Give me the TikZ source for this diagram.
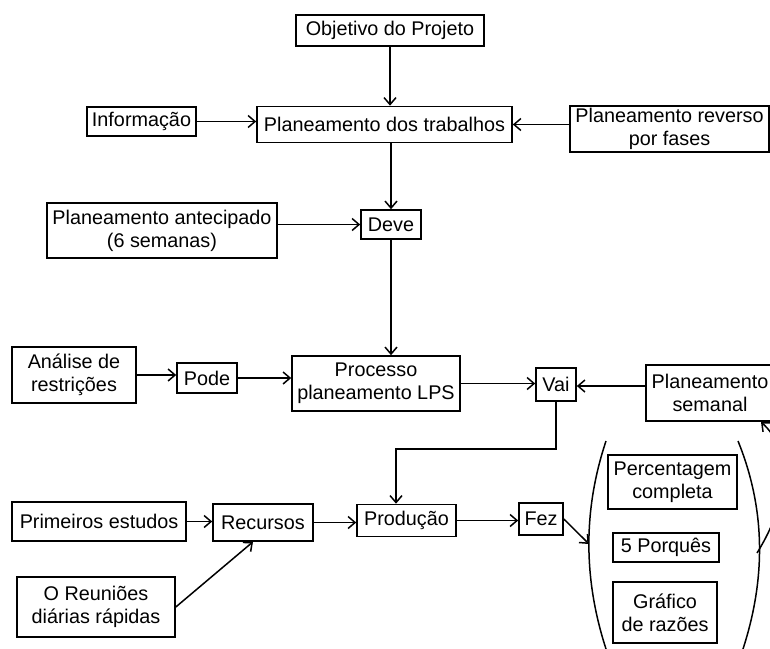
\documentclass[tikz,border=0pt]{standalone}
\usepackage{fontspec}
\setmainfont{Liberation Sans}
\usetikzlibrary{arrows.meta}
\tikzset{
  box/.style={draw, line width=1.6pt, inner sep=0pt, align=center, font=\fontsize{19.8}{23}\selectfont},
  arr/.style={line width=1.5pt, -{Straight Barb[length=7pt,width=12pt,line width=1.5pt]}},
  ln/.style={line width=1.5pt}
}
\begin{document}
\begin{tikzpicture}[x=1pt,y=-1pt]
\useasboundingbox (0,0) rectangle (770,648);
\clip (0,0) rectangle (770,648);
% nodes
\node[box, minimum width=188, minimum height=31] (obj) at (390,30.5) {Objetivo do Projeto};
\node[box, minimum width=109, minimum height=29] (info) at (141.5,121.5) {Informação};
\node[box, minimum width=255, minimum height=36] (pdt) at (384.5,124.5) {Planeamento dos trabalhos};
\node[box, minimum width=199, minimum height=46] (rev) at (669.5,129) {Planeamento reverso\\por fases};
\node[box, minimum width=230, minimum height=55] (ant) at (162,230.5) {Planeamento antecipado\\(6 semanas)};
\node[box, minimum width=60, minimum height=29] (deve) at (391,224.5) {Deve};
\node[box, minimum width=124, minimum height=56] (ana) at (74,375) {Análise de\\restrições};
\node[box, minimum width=60, minimum height=30] (pode) at (207,378) {Pode};
\node[box, minimum width=168, minimum height=55] (proc) at (376,383.5) {Processo\\planeamento LPS};
\node[box, minimum width=40, minimum height=33] (vai) at (556,384.5) {Vai};
\node[box, minimum width=128, minimum height=56] (sem) at (710,393) {Planeamento\\semanal};
\node[box, minimum width=174, minimum height=39] (prim) at (99,521.5) {Primeiros estudos};
\node[box, minimum width=100, minimum height=37] (rec) at (263,522.5) {Recursos};
\node[box, minimum width=158, minimum height=60] (reu) at (96,607) {O Reuniões\\diárias rápidas};
\node[box, minimum width=99, minimum height=32] (prod) at (406.5,520.5) {Produção};
\node[box, minimum width=44, minimum height=32] (fez) at (541,519) {Fez};
\node[box, minimum width=129, minimum height=54] (perc) at (672.5,482) {Percentagem\\completa};
\node[box, minimum width=106, minimum height=29] (porq) at (666,547.5) {5 Porquês};
\node[box, minimum width=104, minimum height=61] (graf) at (665,612.5) {Gráfico\\de razões};
% parentheses
\draw[ln] (606,441) .. controls (583,510) and (583,580) .. (607,652);
\draw[ln] (738,441) .. controls (766,510) and (766,580) .. (742,652);
\coordinate (parl) at (589,544);
\coordinate (parr) at (757,553);
\coordinate (semin) at (761,422);
\coordinate (corner) at (396,449);
% connectors
\draw[arr] (obj.south) -- (obj.south |- pdt.north);
\draw[arr] (info.east) -- (info.east -| pdt.west);
\draw[arr] (pdt.east -| rev.west) -- (pdt.east);
\draw[arr] (pdt.south -| deve.north) -- (deve.north);
\draw[arr] (ant.east |- deve.west) -- (deve.west);
\draw[arr] (deve.south) -- (deve.south |- proc.north);
\draw[arr] (ana.east) -- (ana.east -| pode.west);
\draw[arr] (pode.east) -- (pode.east -| proc.west);
\draw[arr] (proc.east) -- (proc.east -| vai.west);
\draw[arr] (sem.west |- 0,386) -- (vai.east |- 0,386);
\draw[arr] (vai.south) |- (corner) -- (corner |- prod.north);
\draw[arr] (prim.east) -- (prim.east -| rec.west);
\draw[arr] (rec.east) -- (rec.east -| prod.west);
\draw[arr] (reu.east) -- ([xshift=-10]rec.south);
\draw[arr] (prod.east) -- (prod.east -| fez.west);
\draw[arr] (fez.east) -- (parl);
\draw[arr] (parr) .. controls (790,500) and (792,450) .. (semin);
\end{tikzpicture}
\end{document}
